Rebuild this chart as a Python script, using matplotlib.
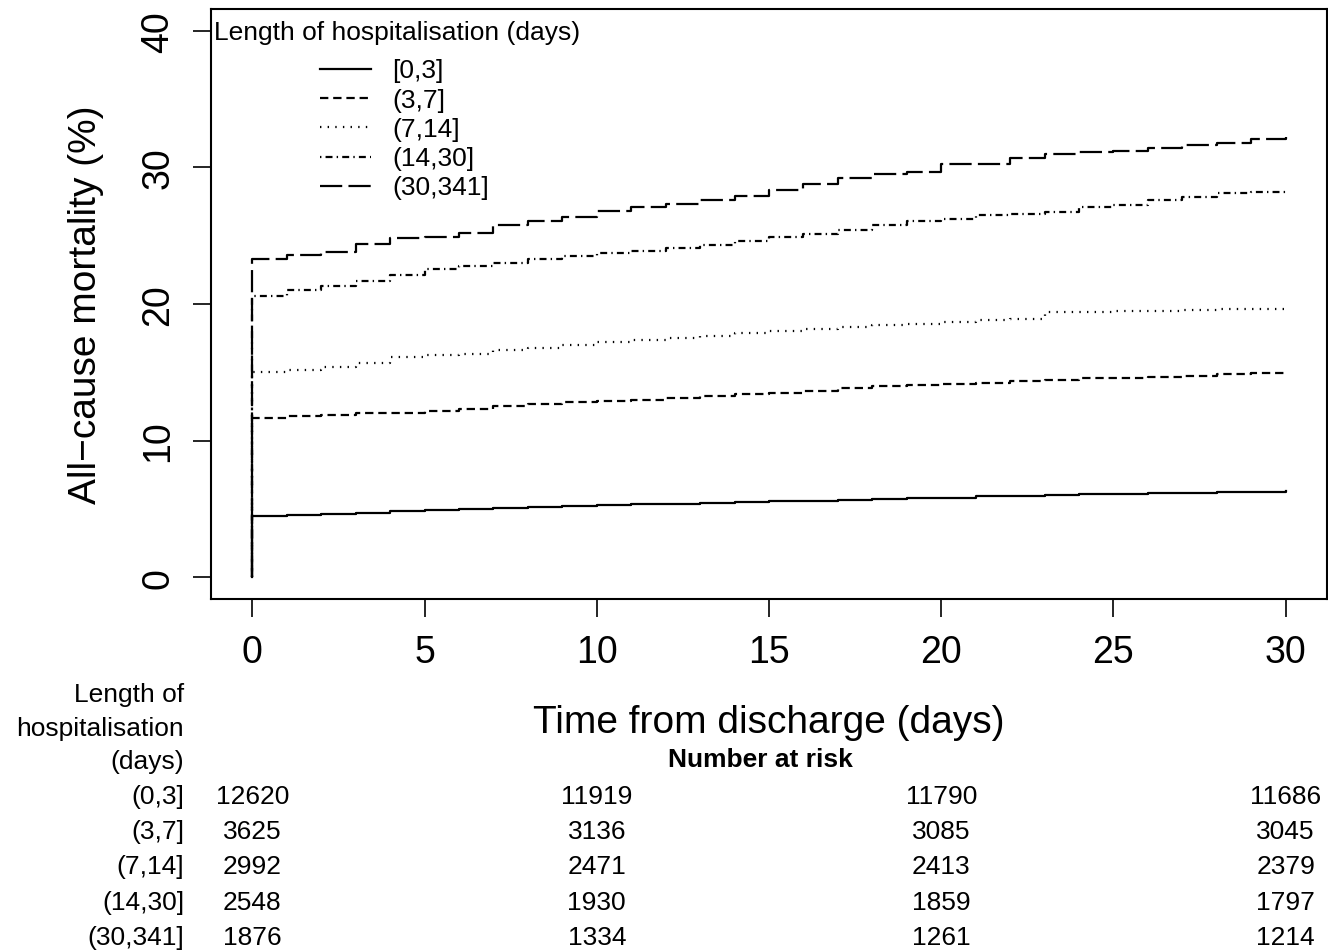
import matplotlib
matplotlib.use("Agg")
import matplotlib.pyplot as plt
import matplotlib.transforms as mtransforms
import numpy as np

plt.rcParams['font.family'] = ['Liberation Sans', 'DejaVu Sans']
plt.rcParams['lines.scale_dashes'] = False

# days since discharge (step points)
days = list(range(0, 31))

# cumulative all-cause mortality (%)
mort_0_3 = [4.45, 4.55, 4.65, 4.73, 4.82, 4.90, 4.97, 5.04, 5.10, 5.18, 5.25,
            5.32, 5.38, 5.44, 5.50, 5.55, 5.60, 5.65, 5.72, 5.78, 5.83,
            5.92, 5.92, 6.00, 6.06, 6.06, 6.14, 6.14, 6.22, 6.22, 6.28]
mort_3_7 = [11.65, 11.8, 11.85, 12.0, 12.05, 12.2, 12.3, 12.55, 12.65, 12.85, 12.9,
            13.0, 13.1, 13.25, 13.4, 13.5, 13.65, 13.85, 14.0, 14.1, 14.15,
            14.25, 14.38, 14.45, 14.55, 14.6, 14.65, 14.75, 14.85, 14.95, 15.0]
mort_7_14 = [15.05, 15.2, 15.4, 15.7, 16.15, 16.25, 16.35, 16.6, 16.8, 17.0, 17.2,
             17.35, 17.5, 17.65, 17.9, 18.05, 18.2, 18.35, 18.45, 18.55, 18.65,
             18.8, 18.9, 19.45, 19.45, 19.5, 19.5, 19.55, 19.6, 19.6, 19.65]
mort_14_30 = [20.55, 21.0, 21.35, 21.7, 22.1, 22.55, 22.8, 23.0, 23.3, 23.5, 23.7,
              23.85, 24.1, 24.35, 24.6, 24.9, 25.15, 25.45, 25.8, 26.1, 26.25,
              26.5, 26.6, 26.7, 27.1, 27.25, 27.6, 27.8, 28.1, 28.2, 28.3]
mort_30_341 = [23.3, 23.6, 23.8, 24.4, 24.8, 24.9, 25.2, 25.75, 26.1, 26.4, 26.8,
               27.1, 27.35, 27.6, 27.9, 28.35, 28.8, 29.2, 29.5, 29.7, 30.25,
               30.25, 30.7, 31.0, 31.15, 31.2, 31.4, 31.65, 31.8, 32.1, 32.2]

legend_labels = ['[0,3]', '(3,7]', '(7,14]', '(14,30]', '(30,341]']
table_labels = ['(0,3]', '(3,7]', '(7,14]', '(14,30]', '(30,341]']
dash_styles = [(None, None), (0, (6, 3.5)), (0, (1, 4.5)), (0, (1, 3, 5, 3)), (0, (16, 4.5))]

risk_times = [0, 10, 20, 30]
at_risk = [
    [12620, 11919, 11790, 11686],
    [3625, 3136, 3085, 3045],
    [2992, 2471, 2413, 2379],
    [2548, 1930, 1859, 1797],
    [1876, 1334, 1261, 1214],
]

curves = [mort_0_3, mort_3_7, mort_7_14, mort_14_30, mort_30_341]

W, H = 1328, 953
fig = plt.figure(figsize=(W / 100, H / 100), dpi=100)
ax = fig.add_axes([211 / W, 1 - 600 / H, (1327 - 211) / W, (600 - 10) / H])

for vals, ls in zip(curves, dash_styles):
    xs = [0] + days
    ys = [0] + vals
    if ls[0] is None:
        ax.plot(xs, ys, drawstyle='steps-post', color='black', lw=1.6)
    else:
        ax.plot(xs, ys, drawstyle='steps-post', color='black', lw=1.6, linestyle=ls)

ax.set_xlim(-1.2, 31.2)
ax.set_ylim(-1.6, 41.6)
ax.set_xticks([0, 5, 10, 15, 20, 25, 30])
ax.set_yticks([0, 10, 20, 30, 40])
for s in ax.spines.values():
    s.set_linewidth(1.5)
ax.tick_params(axis='both', length=13, width=1.2, labelsize=27)
ax.tick_params(axis='x', pad=12)
ax.tick_params(axis='y', pad=12)
for lab in ax.get_yticklabels():
    lab.set_rotation(90)
    lab.set_va('center')

ax.set_xlabel('Time from discharge (days)', fontsize=28)
ax.xaxis.set_label_coords(0.5, (600 - 723) / 590)
ax.xaxis.label.set_va('center')
ax.set_ylabel('All\u2212cause mortality (%)', fontsize=28)
ax.yaxis.set_label_coords((86 - 211) / 1116, 0.5)
ax.yaxis.label.set_va('center')

# legend (R style, no frame)
ax.text(3 / 1116, 1 - 23 / 590, 'Length of hospitalisation (days)', transform=ax.transAxes,
        fontsize=19, ha='left', va='center')
for i, (lab, ls) in enumerate(zip(legend_labels, dash_styles)):
    yy = 1 - (60 + 29.2 * i) / 590
    kw = dict(color='black', lw=1.6, transform=ax.transAxes)
    if ls[0] is not None:
        kw['linestyle'] = ls
    ax.plot([109 / 1116, 160 / 1116], [yy, yy], **kw)
    ax.text(181 / 1116, yy - 1.5 / 590, lab, transform=ax.transAxes, fontsize=19,
            ha='left', va='center')

# number at risk table
trans = mtransforms.blended_transform_factory(ax.transData, fig.transFigure)
fig.text(760 / W, 1 - 760 / H, 'Number at risk', fontsize=19, fontweight='bold',
         ha='center', va='center')
for txt, yp in zip(['Length of', 'hospitalisation', '(days)'], [695, 729, 762]):
    fig.text(184 / W, 1 - yp / H, txt, fontsize=19, ha='right', va='center')
for r, (lab, row) in enumerate(zip(table_labels, at_risk)):
    yp = 1 - (797 + 35.2 * r) / H
    fig.text(184 / W, yp, lab, fontsize=19, ha='right', va='center')
    for t, n in zip(risk_times, row):
        ax.text(t, yp, str(n), transform=trans, fontsize=19, ha='center', va='center')

fig.savefig('out.png', dpi=100)
